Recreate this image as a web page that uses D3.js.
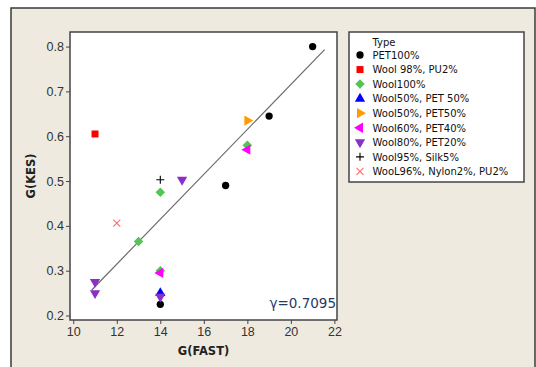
<!DOCTYPE html>
<html>
<head>
<meta charset="utf-8">
<script src="https://cdn.jsdelivr.net/npm/d3@7"></script>
<style>
  body { margin: 0; background: #fff; }
  svg { display: block; }
</style>
</head>
<body>
<div id="chart"></div>
<script>
// Data
var types = ["PET100%", "Wool 98%, PU2%", "Wool100%", "Wool50%, PET 50%", "Wool50%, PET50%",
    "Wool60%, PET40%", "Wool80%, PET20%", "Wool95%, Silk5%", "WooL96%, Nylon2%, PU2%"];
var pointType = [0, 0, 0, 0, 1, 2, 2, 2, 2, 3, 4, 5, 5, 6, 6, 6, 6, 7, 8];
var fastValues = [21, 19, 17, 14, 11, 18, 14, 13, 14, 14, 18, 18, 14, 15, 11, 11, 14, 14, 12];
var kesValues = [0.80, 0.645, 0.49, 0.225, 0.605, 0.58, 0.475, 0.365, 0.30, 0.25, 0.635, 0.57, 0.295,
    0.503, 0.275, 0.25, 0.242, 0.503, 0.406];
var fitFast = [10.85, 21.55];
var fitKes = [0.257, 0.793];
var xTicks = [10, 12, 14, 16, 18, 20, 22];
var yTicks = [0.2, 0.3, 0.4, 0.5, 0.6, 0.7, 0.8];
var corrLabel = "\u03b3=0.7095";

// Marker styles per type
var colors = ["#000000", "#ff0000", "#55c455", "#0000ff", "#ff9a00", "#ff00ff", "#8a2fc8", "#000000", "#ff6a6a"];
var shapes = ["circle", "square", "diamond", "up", "right", "left", "down", "plus", "cross"];

var svgWidth = 536;
var svgHeight = 367;

var plot = { left: 70, top: 32, right: 337, bottom: 320 };

var svg = d3.select("#chart")
    .append("svg")
    .attr("width", svgWidth)
    .attr("height", svgHeight);

// Outer beige panel
svg.append("rect")
    .attr("x", 11)
    .attr("y", 8)
    .attr("width", 524)
    .attr("height", 420)
    .attr("fill", "#eeeae0")
    .attr("stroke", "#3a3a3a")
    .attr("stroke-width", 1.5);

// Plot area
svg.append("rect")
    .attr("x", plot.left)
    .attr("y", plot.top)
    .attr("width", plot.right - plot.left)
    .attr("height", plot.bottom - plot.top)
    .attr("fill", "#fff")
    .attr("stroke", "#444")
    .attr("stroke-width", 1.5);

var xScale = d3.scaleLinear().domain([9.85, 22.12]).range([plot.left, plot.right]);
var yScale = d3.scaleLinear().domain([0.19, 0.8325]).range([plot.bottom, plot.top]);

// Axes
var bottomAxis = d3.axisBottom(xScale).tickValues(xTicks).tickSize(4).tickSizeOuter(0).tickPadding(3);
var leftAxis = d3.axisLeft(yScale).tickValues(yTicks).tickSize(4).tickSizeOuter(0).tickPadding(2)
    .tickFormat(d3.format(".1f"));

var xAxis = svg.append("g")
    .attr("transform", `translate(0, ${plot.bottom})`)
    .call(bottomAxis);
var yAxis = svg.append("g")
    .attr("transform", `translate(${plot.left}, 0)`)
    .call(leftAxis);

[xAxis, yAxis].forEach(function(ax) {
    ax.select(".domain").remove();
    ax.selectAll("line").attr("stroke", "#444");
    ax.selectAll("text")
        .attr("fill", "#333")
        .style("font-family", "'Liberation Sans', Arial, sans-serif")
        .style("font-size", "12.5px");
});

// Axis titles
svg.append("text")
    .attr("x", (plot.left + plot.right) / 2)
    .attr("y", 355)
    .attr("text-anchor", "middle")
    .style("font-family", "'DejaVu Sans', Verdana, sans-serif")
    .style("font-size", "11.5px")
    .style("font-weight", "bold")
    .attr("fill", "#222")
    .text("G(FAST)");

svg.append("text")
    .attr("transform", `translate(35, ${(plot.top + plot.bottom) / 2}) rotate(-90)`)
    .attr("text-anchor", "middle")
    .style("font-family", "'DejaVu Sans', Verdana, sans-serif")
    .style("font-size", "11.5px")
    .style("font-weight", "bold")
    .attr("fill", "#222")
    .text("G(KES)");

// Fitted line
svg.append("line")
    .attr("x1", xScale(fitFast[0]))
    .attr("y1", yScale(fitKes[0]))
    .attr("x2", xScale(fitFast[1]))
    .attr("y2", yScale(fitKes[1]))
    .attr("stroke", "#6a6a6a")
    .attr("stroke-width", 1.2);

// Marker drawing
function symbolPath(shape) {
    if (shape === "circle") return d3.symbol().type(d3.symbolCircle).size(42)();
    if (shape === "square") return d3.symbol().type(d3.symbolSquare).size(49)();
    if (shape === "diamond") return d3.symbol().type(d3.symbolDiamond2).size(58)();
    if (shape === "plus") return "M-4,0H4M0,-4V4";
    if (shape === "cross") return "M-3.5,-3.5L3.5,3.5M-3.5,3.5L3.5,-3.5";
    return d3.symbol().type(d3.symbolTriangle).size(46)();
}
function symbolRotate(shape) {
    if (shape === "down") return 180;
    if (shape === "right") return 90;
    if (shape === "left") return -90;
    return 0;
}
function drawMarker(g, t) {
    var shape = shapes[t];
    var line = shape === "plus" || shape === "cross";
    g.append("path")
        .attr("d", symbolPath(shape))
        .attr("transform", `rotate(${symbolRotate(shape)})`)
        .attr("fill", line ? "none" : colors[t])
        .attr("stroke", line ? colors[t] : "none")
        .attr("stroke-width", line ? 1.1 : 0);
}

// Points
svg.append("g")
    .selectAll("g")
    .data(d3.range(fastValues.length))
    .enter()
    .append("g")
    .attr("transform", i => `translate(${xScale(fastValues[i])}, ${yScale(kesValues[i])})`)
    .each(function(i) { drawMarker(d3.select(this), pointType[i]); });

// Correlation label
svg.append("text")
    .attr("x", 336)
    .attr("y", 308)
    .attr("text-anchor", "end")
    .style("font-family", "'DejaVu Sans', Verdana, sans-serif")
    .style("font-size", "13.5px")
    .attr("fill", "#1f3a66")
    .text(corrLabel);

// Legend
var legend = svg.append("g");
legend.append("rect")
    .attr("x", 349)
    .attr("y", 32)
    .attr("width", 175)
    .attr("height", 150)
    .attr("fill", "#fff")
    .attr("stroke", "#444")
    .attr("stroke-width", 1.5);

legend.append("text")
    .attr("x", 372.5)
    .attr("y", 45.5)
    .style("font-family", "'DejaVu Sans', Verdana, sans-serif")
    .style("font-size", "10px")
    .attr("fill", "#111")
    .text("Type");

var rows = legend.selectAll("g.row")
    .data(types)
    .enter()
    .append("g")
    .attr("class", "row")
    .attr("transform", (d, i) => `translate(360, ${55 + i * 14.55})`);

rows.each(function(d, i) { drawMarker(d3.select(this), i); });

rows.append("text")
    .attr("x", 12.5)
    .attr("y", 3.8)
    .style("font-family", "'DejaVu Sans', Verdana, sans-serif")
    .style("font-size", "10px")
    .attr("fill", "#111")
    .text(d => d);
</script>
</body>
</html>
